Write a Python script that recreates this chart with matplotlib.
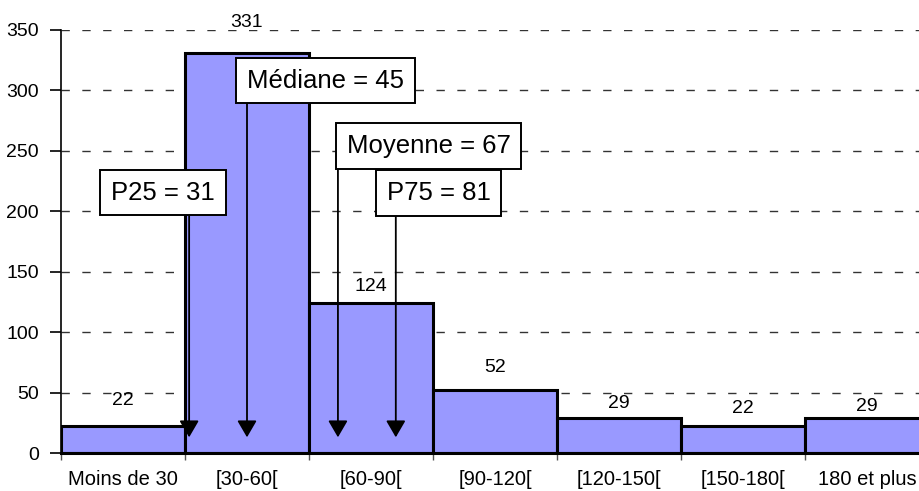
import matplotlib
matplotlib.use("Agg")
import matplotlib.pyplot as plt

plt.rcParams['font.family'] = ['Liberation Sans', 'DejaVu Sans']

# Durées (minutes) regroupées par classes de 30 minutes
categories = ["Moins de 30", "[30-60[", "[60-90[", "[90-120[", "[120-150[", "[150-180[", "180 et plus"]
effectifs = [22, 331, 124, 52, 29, 22, 29]
class_width = 30

# Indicateurs de position
stat_labels = ["P25", "Médiane", "Moyenne", "P75"]
stat_values = [31, 45, 67, 81]

# Mise en page des étiquettes de valeur (décalage vertical en pixels)
label_offsets = [26, 30, 17, 23, 14, 18, 11]
# Centre des cadres de texte (coordonnées des données)
box_centers = [(0.823, 215.5), (2.133, 308.2), (2.964, 254.2), (3.044, 215.1)]
arrow_tip = 13.0

fig = plt.figure(figsize=(9.19, 4.91), dpi=100)
ax = fig.add_axes([61 / 919, 38 / 491, 868 / 919, 423 / 491])

xs = list(range(len(categories)))
ax.bar(xs, effectifs, width=1.0, align='edge', color='#9999FF',
       edgecolor='black', linewidth=2.2, zorder=2)

for x, v, off in zip(xs, effectifs, label_offsets):
    ax.annotate(str(v), xy=(x + 0.5, v), xytext=(0, off), textcoords='offset pixels',
                ha='center', va='center', fontsize=14, zorder=5, annotation_clip=False)

for lab, val, (bx, by) in zip(stat_labels, stat_values, box_centers):
    xv = val / class_width
    ax.annotate('', xy=(xv, arrow_tip), xytext=(xv, by),
                arrowprops=dict(arrowstyle='-|>,head_length=0.6,head_width=0.35',
                                mutation_scale=17, lw=1.3, color='black',
                                shrinkA=0, shrinkB=0), zorder=4)
    ax.text(bx, by, f"{lab} = {val}", ha='center', va='center', fontsize=18.5,
            zorder=6, bbox=dict(boxstyle='square,pad=0.42', facecolor='white',
                                edgecolor='black', linewidth=1.4))

ax.set_xlim(0, len(categories))
ax.set_ylim(0, 350)
ax.set_yticks(range(0, 351, 50))
ax.set_xticks([x + 1 for x in xs[:-1]] + [0])
ax.set_xticklabels([])
ax.set_xticks([x + 0.5 for x in xs], minor=True)
ax.set_xticklabels(categories, minor=True)
ax.tick_params(axis='x', which='minor', length=0, pad=12.5, labelsize=14.5)
ax.tick_params(axis='x', which='major', length=5, width=1, color='#555555')
ax.tick_params(axis='y', length=8, width=1.2, pad=8, labelsize=14)

ax.grid(axis='y', color='#333333', linestyle=(0, (6, 9)), linewidth=1.0, zorder=0)
ax.set_axisbelow(True)
for s in ['top', 'right']:
    ax.spines[s].set_visible(False)
ax.spines['left'].set_linewidth(1.2)
ax.spines['bottom'].set_linewidth(2.2)
ax.spines['left'].set_zorder(3)

fig.savefig('out.png', dpi=100)
